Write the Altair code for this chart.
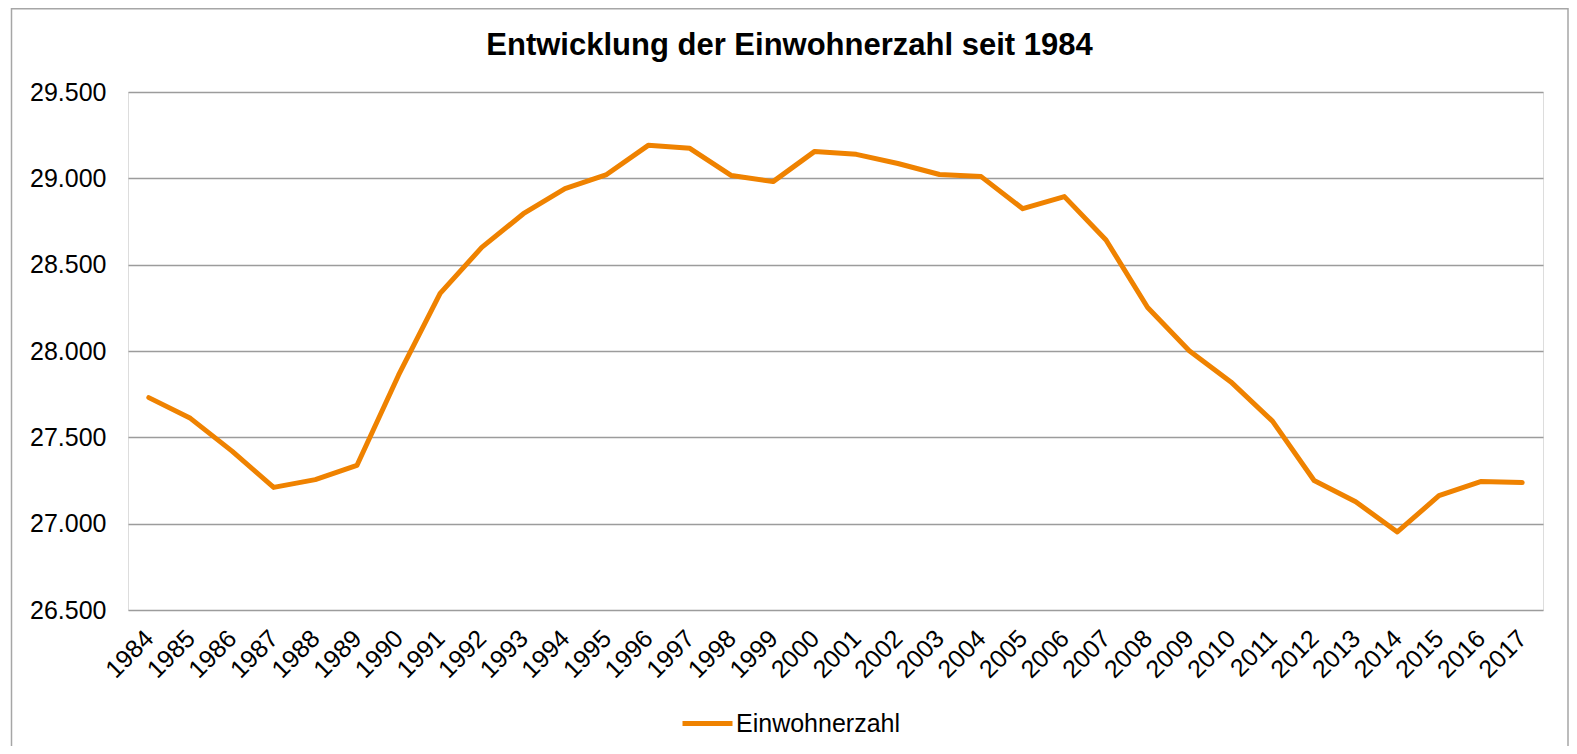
import altair as alt
import pandas as pd

# ---- data ----
years = [str(y) for y in range(1984, 2018)]
einwohner = [27730, 27610, 27420, 27210, 27255, 27337, 27860, 28334, 28600, 28795,
             28940, 29022, 29191, 29174, 29016, 28981, 29156, 29139, 29086, 29022,
             29010, 28824, 28894, 28643, 28252, 28002, 27821, 27594, 27250, 27127,
             26952, 27162, 27244, 27238]
series_name = "Einwohnerzahl"
y_ticks = [26500, 27000, 27500, 28000, 28500, 29000, 29500]
title_text = "Entwicklung der Einwohnerzahl seit 1984"

df = pd.DataFrame({"Jahr": years, "Wert": einwohner, "Reihe": [series_name] * len(years)})

FONT = "Liberation Sans"
ORANGE = "#EF8200"
W, H = 1415, 518

line = alt.Chart(df).mark_line(strokeWidth=5, strokeCap="round", strokeJoin="round").encode(
    x=alt.X("Jahr:O", title=None, sort=years,
            axis=alt.Axis(labelAngle=-45, labelAlign="right", labelBaseline="middle",
                          labelPadding=24, labelFontSize=25, labelFont=FONT,
                          labelColor="#000000", ticks=False, domain=False,
                          grid=False, labelOverlap=False)),
    y=alt.Y("Wert:Q", title=None,
            scale=alt.Scale(domain=[26500, 29500], nice=False, zero=False),
            axis=alt.Axis(values=y_ticks, labelExpr="replace(format(datum.value, ',.0f'), ',', '.')",
                          labelFontSize=25, labelFont=FONT, labelColor="#000000",
                          labelPadding=22, ticks=False, domain=False,
                          grid=True, gridColor="#9c9c9c", gridWidth=1.5)),
    color=alt.Color("Reihe:N", title=None,
                    scale=alt.Scale(domain=[series_name], range=[ORANGE]),
                    legend=alt.Legend(orient="none", legendX=552, legendY=604,
                                      symbolType="stroke", symbolSize=2500,
                                      symbolStrokeWidth=5, labelFontSize=25,
                                      labelFont=FONT, labelColor="#000000",
                                      labelOffset=1, padding=0, labelLimit=0)),
)

border = alt.Chart(pd.DataFrame({"a": [0]})).mark_rect(
    fill="white", fillOpacity=0, stroke="#a6a6a6", strokeWidth=1.5, clip=False
).encode(
    x=alt.value(-116.5), x2=alt.value(1440), y=alt.value(-83.2), y2=alt.value(660)
)

title = alt.Chart(pd.DataFrame({"t": [title_text]})).mark_text(
    font=FONT, fontSize=31, fontWeight="bold", color="#000000",
    align="center", baseline="alphabetic", clip=False
).encode(text="t:N", x=alt.value(661.5), y=alt.value(-37.5))

chart = alt.layer(border, line, title).properties(
    width=W, height=H,
    autosize=alt.AutoSizeParams(type="none"),
    padding={"left": 120, "top": 84, "right": 26, "bottom": 136},
).configure_view(stroke=None).configure(background="white")

chart.save("out.html", embed_options={"renderer": "svg", "actions": False})
